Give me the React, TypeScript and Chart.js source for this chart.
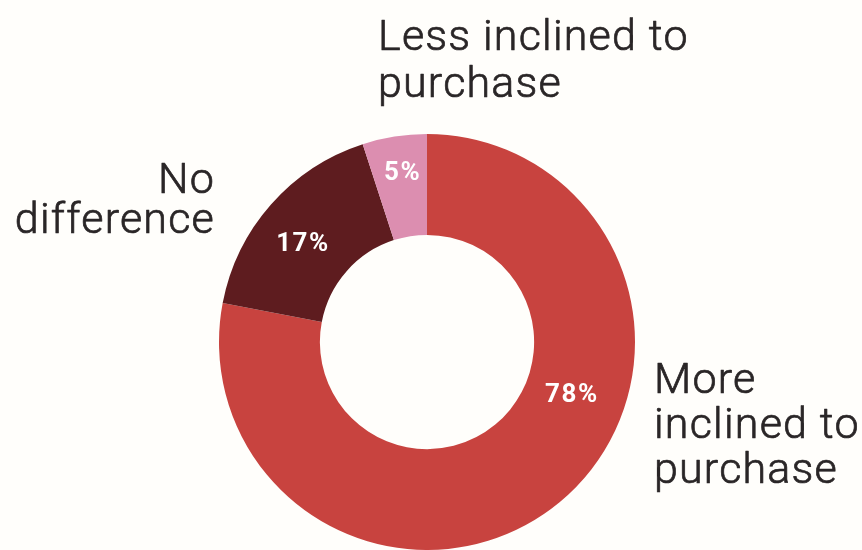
import React, { useEffect, useRef } from "react";
import { Chart, registerables } from "chart.js";

Chart.register(...registerables);

const categories = ["More inclined to purchase", "No difference", "Less inclined to purchase"];
const values = [78, 17, 5];
const valueLabels = ["78%", "17%", "5%"];
const colors = ["#C8433F", "#5E1C1F", "#DC8EB0"];

// label placement inside ring: angle (deg clockwise from top), radius fraction of outer radius
const labelAngles = [110.2, 308.1, 351.5];
const labelRadii = [0.737, 0.764, 0.826];

// outer category text blocks
const outerLines = [
  ["More", "inclined to", "purchase"],
  ["No", "difference"],
  ["Less inclined to", "purchase"],
];
const outerAlign: CanvasTextAlign[] = ["left", "right", "left"];
const outerX = [654, 214, 378];
const outerBaselines = [
  [393, 438, 483],
  [193, 233],
  [50, 97],
];

const BG = "#fffefb";

export default function App() {
  const ref = useRef<HTMLCanvasElement | null>(null);

  useEffect(() => {
    document.body.style.margin = "0";
    const canvas = ref.current;
    if (!canvas) return;

    const bgPlugin = {
      id: "bg",
      beforeDraw(chart: any) {
        const ctx = chart.ctx;
        ctx.save();
        ctx.fillStyle = BG;
        ctx.fillRect(0, 0, chart.width, chart.height);
        ctx.restore();
      },
    };

    const textPlugin = {
      id: "texts",
      afterDraw(chart: any) {
        const ctx = chart.ctx;
        const meta = chart.getDatasetMeta(0);
        const arc0 = meta.data[0] as any;
        const cx = arc0.x;
        const cy = arc0.y;
        const R = arc0.outerRadius;
        ctx.save();
        ctx.fillStyle = "#ffffff";
        ctx.font = "bold 26px Roboto";
        (ctx as any).letterSpacing = "1.5px";
        ctx.textAlign = "center";
        ctx.textBaseline = "middle";
        values.forEach((_, i) => {
          const a = (labelAngles[i] * Math.PI) / 180;
          const r = labelRadii[i] * R;
          ctx.fillText(valueLabels[i], cx + Math.sin(a) * r + 1, cy - Math.cos(a) * r + 1);
        });
        ctx.fillStyle = "#2a2627";
        ctx.strokeStyle = "#2a2627";
        ctx.lineWidth = 0.7;
        ctx.lineJoin = "round";
        ctx.font = "300 43px Roboto";
        (ctx as any).letterSpacing = "1.2px";
        ctx.textBaseline = "alphabetic";
        outerLines.forEach((lines, i) => {
          ctx.textAlign = outerAlign[i];
          lines.forEach((line, j) => {
            const x = outerX[i] + (outerAlign[i] === "right" ? 1 : 0);
            ctx.fillText(line, x, outerBaselines[i][j]);
            ctx.strokeText(line, x, outerBaselines[i][j]);
          });
        });
        ctx.restore();
      },
    };

    const chart = new Chart(canvas, {
      type: "doughnut",
      data: {
        labels: categories,
        datasets: [
          {
            data: values,
            backgroundColor: colors,
            borderWidth: 0,
            hoverOffset: 0,
            offset: 0,
          },
        ],
      },
      options: {
        responsive: false,
        animation: false,
        cutout: "51.5%",
        rotation: 0,
        layout: { padding: { top: 134, bottom: 0, left: 219, right: 227 } },
        plugins: {
          legend: { display: false },
          tooltip: { enabled: false },
          title: { display: false },
        },
        events: [],
      },
      plugins: [bgPlugin, textPlugin],
    });

    return () => chart.destroy();
  }, []);

  return (
    <div style={{ position: "fixed", left: 0, top: 0, width: 862, height: 550, background: BG }}>
      <canvas ref={ref} width={862} height={550} />
    </div>
  );
}
